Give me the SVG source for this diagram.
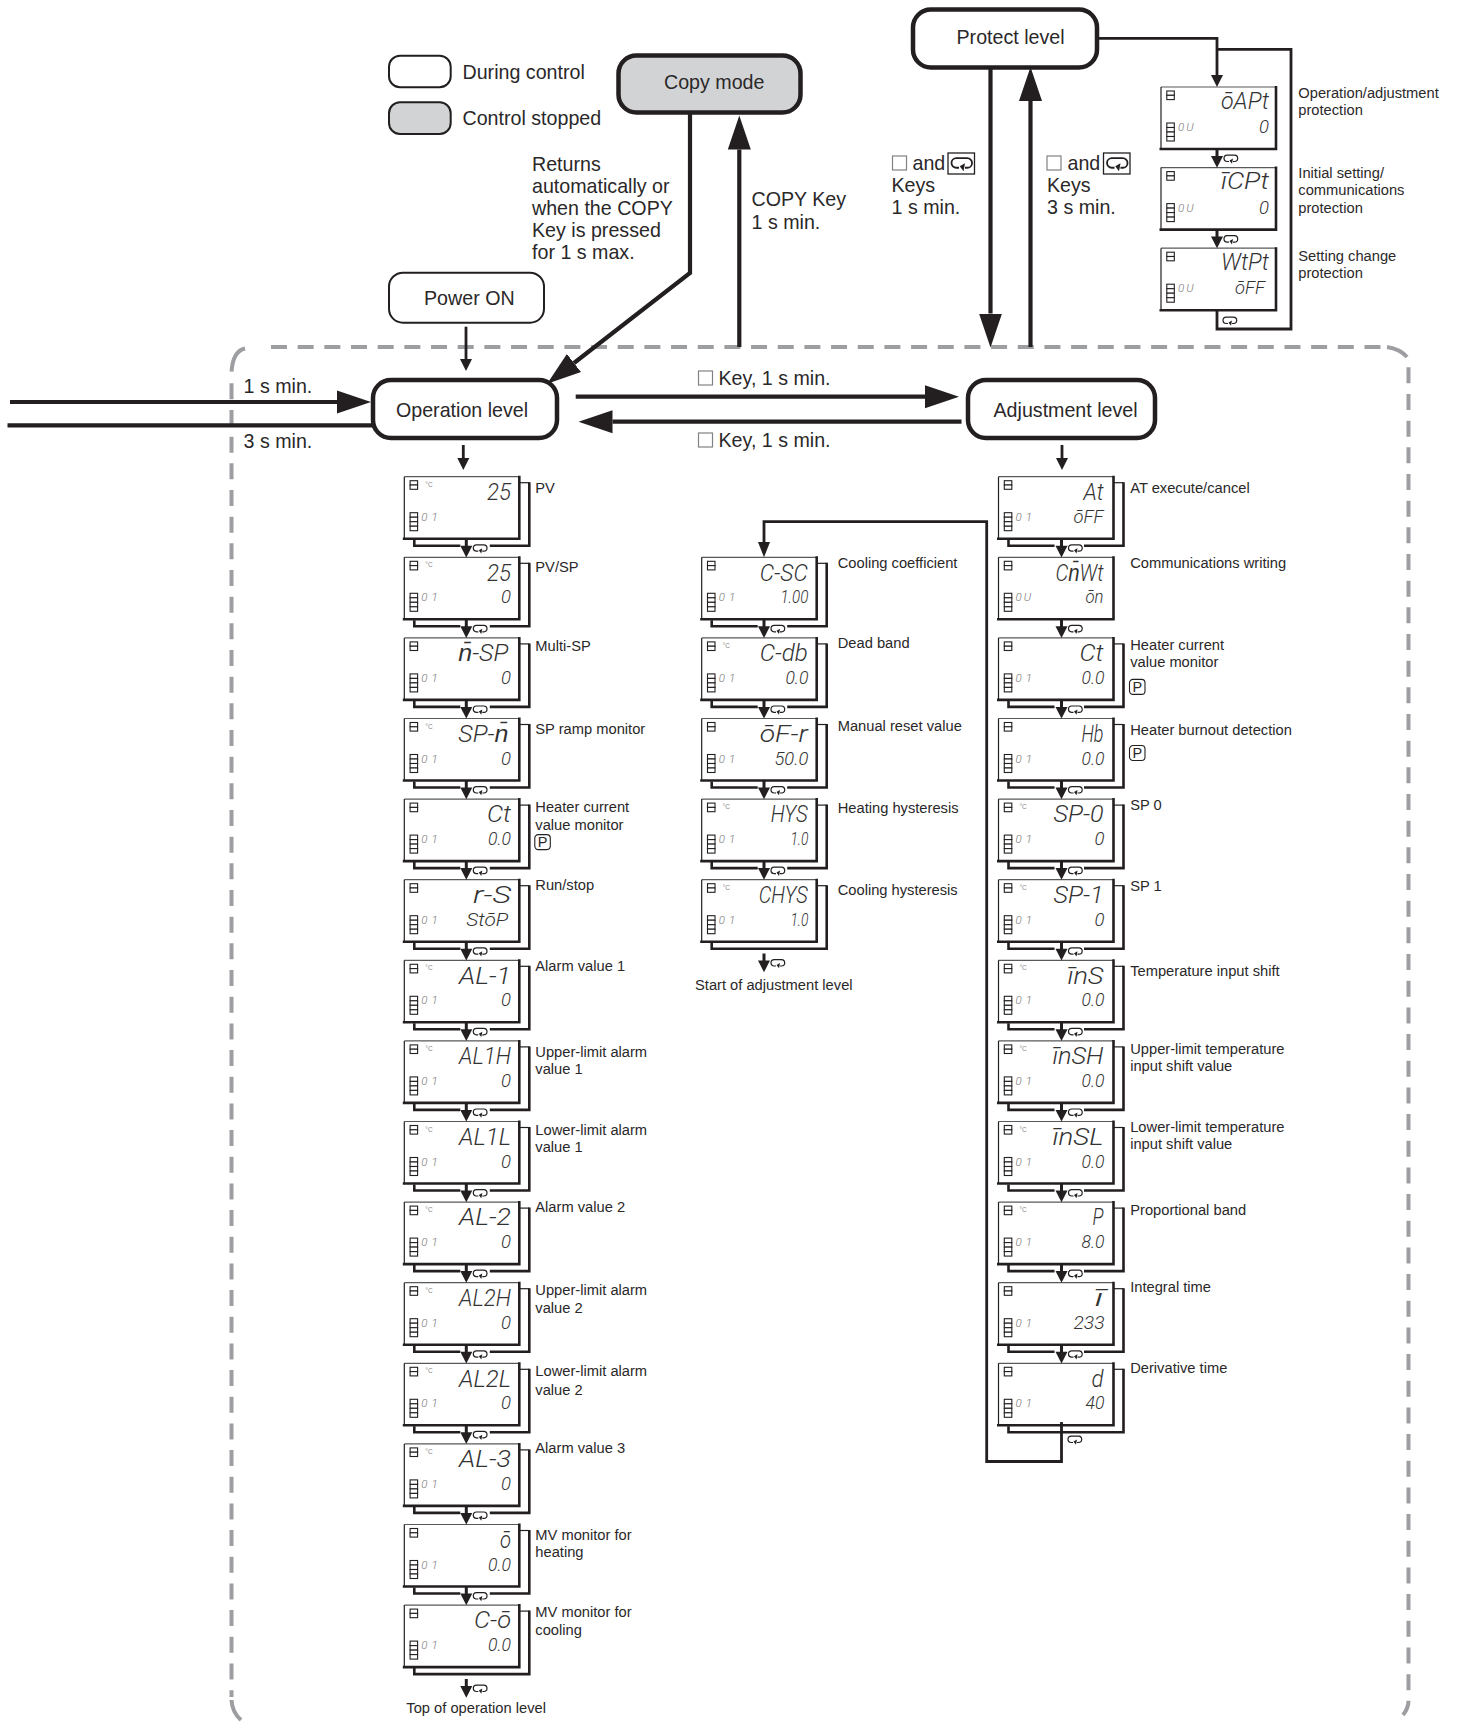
<svg xmlns="http://www.w3.org/2000/svg" width="1457" height="1722" viewBox="0 0 1457 1722">
<style>
text{font-family:"Liberation Sans",Arial,sans-serif;fill:#2a2829}
.b{font-size:19.65px}
.l{font-size:14.7px}
.m,.s,.d{font-family:"Roboto","Liberation Sans",sans-serif;font-style:italic;font-weight:300;text-anchor:end;fill:#333}
.m{font-size:24px}
.s{font-size:18.5px}
.d{font-size:11.5px;text-anchor:start;fill:#777;letter-spacing:4px}
.c{font-size:6.5px;fill:#888}
.lv{fill:#fff;stroke:#231f20;stroke-width:4.5}
.th{fill:#fff;stroke:#231f20;stroke-width:2}
.dash{fill:none;stroke:#9d9ea1;stroke-width:4;stroke-dasharray:16 10.67}
.cor{fill:none;stroke:#9d9ea1;stroke-width:4}
.k{fill:none;stroke:#231f20;stroke-width:4.2}
.k3{fill:none;stroke:#231f20;stroke-width:2.8}
.sq{fill:#fff;stroke:#808285;stroke-width:1.2}
</style>
<defs>
<marker id="big" markerUnits="userSpaceOnUse" markerWidth="36" markerHeight="24" refX="0" refY="12" orient="auto" viewBox="0 0 36 24"><path d="M0,0.5 L34,12 L0,23.500Z" fill="#231f20"/></marker>
<marker id="small" markerUnits="userSpaceOnUse" markerWidth="12" markerHeight="13" refX="0" refY="6.500" orient="auto" viewBox="0 0 12 13"><path d="M0,0.500 L12,6.500 L0,12.500Z" fill="#231f20"/></marker>
<g id="loop"><path d="M9,7.500 H10.500 a3.200,3.200 0 0 0 0,-6.400 H3.200 a3.200,3.200 0 0 0 0,6.400 H5" fill="none" stroke="#231f20" stroke-width="1.200"/><path d="M9,4.500 L5.500,6.500 L8,9.800Z" fill="#231f20"/></g>
<g id="step"><path d="M0,0 V8" fill="none" stroke="#231f20" stroke-width="3"/><path d="M-6,7 H6 L0,18.700Z" fill="#231f20"/><use href="#loop" x="7" y="5"/></g>
<g id="lcd">
<rect x="0.500" y="0.500" width="114" height="61" fill="#fff"/>
<path d="M0,0 H115" fill="none" stroke="#58595b" stroke-width="1.200"/><path d="M0,0 V62" fill="none" stroke="#231f20" stroke-width="1.200"/>
<path d="M-1.500,62 H115 V-1" fill="none" stroke="#231f20" stroke-width="2.600"/>
<g fill="#fff" stroke="#231f20" stroke-width="1.100"><rect x="5.800" y="4" width="7.500" height="4.300"/><rect x="5.800" y="8.300" width="7.500" height="4.300"/><rect x="5.800" y="36" width="7.500" height="4.500"/><rect x="5.800" y="40.500" width="7.500" height="4.500"/><rect x="5.800" y="45" width="7.500" height="4.500"/><rect x="5.800" y="49.500" width="7.500" height="4.500"/></g>
</g>
<g id="back"><path d="M115,6 H125" fill="none" stroke="#231f20" stroke-width="1.200"/><path d="M125,5.500 V69 H85.500 M56,69 H10 V63" fill="none" stroke="#231f20" stroke-width="2.600"/></g>
<g id="backf"><path d="M115,6 H125" fill="none" stroke="#231f20" stroke-width="1.200"/><path d="M125,5.500 V69 H10 V63" fill="none" stroke="#231f20" stroke-width="2.600"/></g>
<g id="keybox"><rect x="0" y="0" width="26.500" height="21" fill="#fff" stroke="#231f20" stroke-width="1.300"/><use href="#loop" transform="translate(3.500,3.500) scale(1.500)"/></g>
<g id="pkey"><rect x="0" y="0" width="15.500" height="15" rx="3.500" fill="#fff" stroke="#231f20" stroke-width="1.100"/><text x="7.750" y="12.700" text-anchor="middle" style="font-size:14.5px">P</text></g>
</defs>

<g id="boundary">
<path class="dash" d="M271,347 H1385"/>
<path class="cor" d="M1387,347 Q1400,349 1407,357"/>
<path class="dash" d="M1408.500,367.300 V1697"/>
<path class="cor" d="M1408.500,1700.700 Q1408.500,1708 1403,1715"/>
<path class="dash" d="M231.500,383.300 V1697"/>
<path class="cor" d="M245,348.500 Q233,351 231.500,371.700"/>
<path class="cor" d="M231.500,1700 Q232,1712 241,1720"/>
</g>

<g id="legend">
<rect class="th" x="389" y="55.700" width="61.700" height="31.600" rx="11"/>
<rect class="th" x="389" y="102.300" width="61.700" height="31.700" rx="11" style="fill:#d1d3d4"/>
<text class="b" x="462.500" y="79.300">During control</text>
<text class="b" x="462.500" y="125.300">Control stopped</text>
</g>

<g id="n-copy"><rect class="lv" x="618.500" y="55.500" width="182" height="57" rx="18" style="fill:#d1d3d4"/><text class="b" x="664" y="89.300">Copy mode</text></g>
<g id="n-protect"><rect class="lv" x="913" y="9.500" width="184" height="58" rx="18"/><text class="b" x="956.500" y="44">Protect level</text></g>
<g id="n-power"><rect class="th" x="389" y="272.700" width="155" height="50" rx="14"/><text class="b" x="424" y="305">Power ON</text></g>
<g id="n-operation"><rect class="lv" x="373" y="380" width="184" height="58" rx="18"/><text class="b" x="396" y="417.300">Operation level</text></g>
<g id="n-adjustment"><rect class="lv" x="968" y="380" width="187" height="58" rx="18"/><text class="b" x="993.500" y="417.300">Adjustment level</text></g>

<g id="op-labels-text">
<text class="b" x="532" y="170.700">Returns</text>
<text class="b" x="532" y="192.700">automatically or</text>
<text class="b" x="532" y="215">when the COPY</text>
<text class="b" x="532" y="236.700">Key is pressed</text>
<text class="b" x="532" y="259.300">for 1 s max.</text>
<text class="b" x="751.500" y="206">COPY Key</text>
<text class="b" x="751.500" y="229.300">1 s min.</text>
<text class="b" x="243.500" y="393.300">1 s min.</text>
<text class="b" x="243.500" y="448">3 s min.</text>
<rect class="sq" x="698.500" y="371" width="14" height="14"/>
<text class="b" x="718.500" y="385">Key, 1 s min.</text>
<rect class="sq" x="698.500" y="433" width="14" height="14"/>
<text class="b" x="718.500" y="446.700">Key, 1 s min.</text>
<rect class="sq" x="892.500" y="156" width="14" height="14"/>
<text class="b" x="912.500" y="170">and</text>
<use href="#keybox" x="948" y="153"/>
<text class="b" x="891.500" y="191.700">Keys</text>
<text class="b" x="891.500" y="214">1 s min.</text>
<rect class="sq" x="1047" y="156" width="14" height="14"/>
<text class="b" x="1067.500" y="170">and</text>
<use href="#keybox" x="1103.500" y="153"/>
<text class="b" x="1047" y="191.700">Keys</text>
<text class="b" x="1047" y="214">3 s min.</text>
<text class="l" x="1298.300" y="98">Operation/adjustment</text>
<text class="l" x="1298.300" y="115">protection</text>
<text class="l" x="1298.300" y="178">Initial setting/</text>
<text class="l" x="1298.300" y="195">communications</text>
<text class="l" x="1298.300" y="213">protection</text>
<text class="l" x="1298.300" y="260.700">Setting change</text>
<text class="l" x="1298.300" y="278">protection</text>
</g>

<g id="protect-col">
<g id="p1" transform="translate(1161,87)"><use href="#lcd"/><text class="m" x="108" y="21.600" textLength="48" lengthAdjust="spacingAndGlyphs">ōAPt</text><text class="d" x="17" y="44" style="letter-spacing:2px">0U</text><text class="s" x="108" y="46" textLength="10" lengthAdjust="spacingAndGlyphs">0</text></g>
<g id="p2" transform="translate(1161,167.600)"><use href="#lcd"/><text class="m" x="108" y="21.600" textLength="48" lengthAdjust="spacingAndGlyphs">īCPt</text><text class="d" x="17" y="44" style="letter-spacing:2px">0U</text><text class="s" x="108" y="46" textLength="10" lengthAdjust="spacingAndGlyphs">0</text></g>
<g id="p3" transform="translate(1161,248.200)"><use href="#lcd"/><text class="m" x="108" y="21.600" textLength="48" lengthAdjust="spacingAndGlyphs">WtPt</text><text class="d" x="17" y="44" style="letter-spacing:2px">0U</text><text class="s" x="104" y="46" textLength="30" lengthAdjust="spacingAndGlyphs">ōFF</text></g>
</g>

<g id="op-col">
<g id="o1" transform="translate(404.300,476.700)"><use href="#back"/><use href="#lcd"/><text class="c" x="21" y="10">°C</text><text class="d" x="17" y="44">01</text><text class="m" x="106.700" y="23.300" textLength="24" lengthAdjust="spacingAndGlyphs">25</text><text class="l" x="131" y="16">PV</text></g>
<g id="o2" transform="translate(404.300,557.300)"><use href="#back"/><use href="#lcd"/><text class="c" x="21" y="10">°C</text><text class="d" x="17" y="44">01</text><text class="m" x="106.700" y="23.300" textLength="24" lengthAdjust="spacingAndGlyphs">25</text><text class="s" x="106.700" y="46" textLength="10" lengthAdjust="spacingAndGlyphs">0</text><text class="l" x="131" y="14.400">PV/SP</text></g>
<g id="o3" transform="translate(404.300,637.900)"><use href="#back"/><use href="#lcd"/><text class="d" x="17" y="44">01</text><text class="m" x="104" y="23.300" textLength="50" lengthAdjust="spacingAndGlyphs">n̄-SP</text><text class="s" x="106.700" y="46" textLength="10" lengthAdjust="spacingAndGlyphs">0</text><text class="l" x="131" y="12.800">Multi-SP</text></g>
<g id="o4" transform="translate(404.300,718.500)"><use href="#back"/><use href="#lcd"/><text class="c" x="21" y="10">°C</text><text class="d" x="17" y="44">01</text><text class="m" x="104" y="23.300" textLength="50" lengthAdjust="spacingAndGlyphs">SP-n̄</text><text class="s" x="106.700" y="46" textLength="10" lengthAdjust="spacingAndGlyphs">0</text><text class="l" x="131" y="15.500">SP ramp monitor</text></g>
<g id="o5" transform="translate(404.300,799.100)"><use href="#back"/><use href="#lcd"/><text class="d" x="17" y="44">01</text><text class="m" x="106.700" y="23.300" textLength="24" lengthAdjust="spacingAndGlyphs">Ct</text><text class="s" x="106.700" y="46" textLength="23" lengthAdjust="spacingAndGlyphs">0.0</text><text class="l" x="131" y="13">Heater current</text><text class="l" x="131" y="30.500">value monitor</text><use href="#pkey" x="130.500" y="35.500"/></g>
<g id="o6" transform="translate(404.300,879.700)"><use href="#back"/><use href="#lcd"/><text class="d" x="17" y="44">01</text><text class="m" x="106.700" y="23.300" textLength="38" lengthAdjust="spacingAndGlyphs">r-S</text><text class="s" x="104" y="46" textLength="42" lengthAdjust="spacingAndGlyphs">StōP</text><text class="l" x="131" y="10.300">Run/stop</text></g>
<g id="o7" transform="translate(404.300,960.300)"><use href="#back"/><use href="#lcd"/><text class="c" x="21" y="10">°C</text><text class="d" x="17" y="44">01</text><text class="m" x="106.700" y="23.300" textLength="52" lengthAdjust="spacingAndGlyphs">AL-1</text><text class="s" x="106.700" y="46" textLength="10" lengthAdjust="spacingAndGlyphs">0</text><text class="l" x="131" y="10.700">Alarm value 1</text></g>
<g id="o8" transform="translate(404.300,1040.900)"><use href="#back"/><use href="#lcd"/><text class="c" x="21" y="10">°C</text><text class="d" x="17" y="44">01</text><text class="m" x="106.700" y="23.300" textLength="52" lengthAdjust="spacingAndGlyphs">AL1H</text><text class="s" x="106.700" y="46" textLength="10" lengthAdjust="spacingAndGlyphs">0</text><text class="l" x="131" y="16">Upper-limit alarm</text><text class="l" x="131" y="33.600">value 1</text></g>
<g id="o9" transform="translate(404.300,1121.500)"><use href="#back"/><use href="#lcd"/><text class="c" x="21" y="10">°C</text><text class="d" x="17" y="44">01</text><text class="m" x="106.700" y="23.300" textLength="52" lengthAdjust="spacingAndGlyphs">AL1L</text><text class="s" x="106.700" y="46" textLength="10" lengthAdjust="spacingAndGlyphs">0</text><text class="l" x="131" y="13.500">Lower-limit alarm</text><text class="l" x="131" y="30.500">value 1</text></g>
<g id="o10" transform="translate(404.300,1202.100)"><use href="#back"/><use href="#lcd"/><text class="c" x="21" y="10">°C</text><text class="d" x="17" y="44">01</text><text class="m" x="106.700" y="23.300" textLength="52" lengthAdjust="spacingAndGlyphs">AL-2</text><text class="s" x="106.700" y="46" textLength="10" lengthAdjust="spacingAndGlyphs">0</text><text class="l" x="131" y="9.900">Alarm value 2</text></g>
<g id="o11" transform="translate(404.300,1282.700)"><use href="#back"/><use href="#lcd"/><text class="c" x="21" y="10">°C</text><text class="d" x="17" y="44">01</text><text class="m" x="106.700" y="23.300" textLength="52" lengthAdjust="spacingAndGlyphs">AL2H</text><text class="s" x="106.700" y="46" textLength="10" lengthAdjust="spacingAndGlyphs">0</text><text class="l" x="131" y="12.300">Upper-limit alarm</text><text class="l" x="131" y="30">value 2</text></g>
<g id="o12" transform="translate(404.300,1363.300)"><use href="#back"/><use href="#lcd"/><text class="c" x="21" y="10">°C</text><text class="d" x="17" y="44">01</text><text class="m" x="106.700" y="23.300" textLength="52" lengthAdjust="spacingAndGlyphs">AL2L</text><text class="s" x="106.700" y="46" textLength="10" lengthAdjust="spacingAndGlyphs">0</text><text class="l" x="131" y="12.700">Lower-limit alarm</text><text class="l" x="131" y="31.700">value 2</text></g>
<g id="o13" transform="translate(404.300,1443.900)"><use href="#back"/><use href="#lcd"/><text class="c" x="21" y="10">°C</text><text class="d" x="17" y="44">01</text><text class="m" x="106.700" y="23.300" textLength="52" lengthAdjust="spacingAndGlyphs">AL-3</text><text class="s" x="106.700" y="46" textLength="10" lengthAdjust="spacingAndGlyphs">0</text><text class="l" x="131" y="9.100">Alarm value 3</text></g>
<g id="o14" transform="translate(404.300,1524.500)"><use href="#back"/><use href="#lcd"/><text class="d" x="17" y="44">01</text><text class="m" x="106.700" y="23.300" textLength="11" lengthAdjust="spacingAndGlyphs">ō</text><text class="s" x="106.700" y="46" textLength="23" lengthAdjust="spacingAndGlyphs">0.0</text><text class="l" x="131" y="15.500">MV monitor for</text><text class="l" x="131" y="32">heating</text></g>
<g id="o15" transform="translate(404.300,1605.100)"><use href="#backf"/><use href="#lcd"/><text class="d" x="17" y="44">01</text><text class="m" x="106.700" y="23.300" textLength="37" lengthAdjust="spacingAndGlyphs">C-ō</text><text class="s" x="106.700" y="46" textLength="23" lengthAdjust="spacingAndGlyphs">0.0</text><text class="l" x="131" y="11.600">MV monitor for</text><text class="l" x="131" y="30">cooling</text></g>
<text class="l" x="406.300" y="1712.700">Top of operation level</text>
</g>

<g id="mid-col">
<g id="m1" transform="translate(701.700,557.300)"><use href="#back"/><use href="#lcd"/><text class="d" x="17" y="44">01</text><text class="m" x="106" y="23.300" textLength="48" lengthAdjust="spacingAndGlyphs">C-SC</text><text class="s" x="106.700" y="46" textLength="28" lengthAdjust="spacingAndGlyphs">1.00</text><text class="l" x="136" y="11">Cooling coefficient</text></g>
<g id="m2" transform="translate(701.700,637.900)"><use href="#back"/><use href="#lcd"/><text class="c" x="21" y="10">°C</text><text class="d" x="17" y="44">01</text><text class="m" x="106" y="23.300" textLength="48" lengthAdjust="spacingAndGlyphs">C-db</text><text class="s" x="106.700" y="46" textLength="23" lengthAdjust="spacingAndGlyphs">0.0</text><text class="l" x="136" y="10.400">Dead band</text></g>
<g id="m3" transform="translate(701.700,718.500)"><use href="#back"/><use href="#lcd"/><text class="d" x="17" y="44">01</text><text class="m" x="106" y="23.300" textLength="48" lengthAdjust="spacingAndGlyphs">ōF-r</text><text class="s" x="106.700" y="46" textLength="34" lengthAdjust="spacingAndGlyphs">50.0</text><text class="l" x="136" y="12.200">Manual reset value</text></g>
<g id="m4" transform="translate(701.700,799.100)"><use href="#back"/><use href="#lcd"/><text class="c" x="21" y="10">°C</text><text class="d" x="17" y="44">01</text><text class="m" x="106" y="23.300" textLength="37" lengthAdjust="spacingAndGlyphs">HYS</text><text class="s" x="106.700" y="46" textLength="18" lengthAdjust="spacingAndGlyphs">1.0</text><text class="l" x="136" y="14.200">Heating hysteresis</text></g>
<g id="m5" transform="translate(701.700,879.700)"><use href="#backf"/><use href="#lcd"/><text class="c" x="21" y="10">°C</text><text class="d" x="17" y="44">01</text><text class="m" x="106" y="23.300" textLength="49" lengthAdjust="spacingAndGlyphs">CHYS</text><text class="s" x="106.700" y="46" textLength="18" lengthAdjust="spacingAndGlyphs">1.0</text><text class="l" x="136" y="15">Cooling hysteresis</text></g>
<text class="l" x="695" y="990">Start of adjustment level</text>
</g>

<g id="adj-col">
<g id="a1" transform="translate(998.500,476.700)"><use href="#back"/><use href="#lcd"/><text class="d" x="17" y="44">01</text><text class="m" x="105" y="23.300" textLength="20" lengthAdjust="spacingAndGlyphs">At</text><text class="s" x="105" y="46" textLength="30" lengthAdjust="spacingAndGlyphs">ōFF</text><text class="l" x="131.700" y="16">AT execute/cancel</text></g>
<g id="a2" transform="translate(998.500,557.300)"><use href="#lcd"/><text class="d" x="17" y="44" style="letter-spacing:2px">0U</text><text class="m" x="105" y="23.300" textLength="48" lengthAdjust="spacingAndGlyphs">Cn̄Wt</text><text class="s" x="105" y="46" textLength="18" lengthAdjust="spacingAndGlyphs">ōn</text><text class="l" x="131.700" y="11">Communications writing</text></g>
<g id="a3" transform="translate(998.500,637.900)"><use href="#back"/><use href="#lcd"/><text class="d" x="17" y="44">01</text><text class="m" x="105" y="23.300" textLength="24" lengthAdjust="spacingAndGlyphs">Ct</text><text class="s" x="106" y="46" textLength="23" lengthAdjust="spacingAndGlyphs">0.0</text><text class="l" x="131.700" y="12">Heater current</text><text class="l" x="131.700" y="28.800">value monitor</text><use href="#pkey" x="131" y="41.500"/></g>
<g id="a4" transform="translate(998.500,718.500)"><use href="#back"/><use href="#lcd"/><text class="d" x="17" y="44">01</text><text class="m" x="105" y="23.300" textLength="22" lengthAdjust="spacingAndGlyphs">Hb</text><text class="s" x="106" y="46" textLength="23" lengthAdjust="spacingAndGlyphs">0.0</text><text class="l" x="131.700" y="16.500">Heater burnout detection</text><use href="#pkey" x="131" y="27"/></g>
<g id="a5" transform="translate(998.500,799.100)"><use href="#back"/><use href="#lcd"/><text class="c" x="21" y="10">°C</text><text class="d" x="17" y="44">01</text><text class="m" x="105" y="23.300" textLength="50" lengthAdjust="spacingAndGlyphs">SP-0</text><text class="s" x="106" y="46" textLength="10" lengthAdjust="spacingAndGlyphs">0</text><text class="l" x="131.700" y="10.900">SP 0</text></g>
<g id="a6" transform="translate(998.500,879.700)"><use href="#back"/><use href="#lcd"/><text class="c" x="21" y="10">°C</text><text class="d" x="17" y="44">01</text><text class="m" x="105" y="23.300" textLength="50" lengthAdjust="spacingAndGlyphs">SP-1</text><text class="s" x="106" y="46" textLength="10" lengthAdjust="spacingAndGlyphs">0</text><text class="l" x="131.700" y="11.300">SP 1</text></g>
<g id="a7" transform="translate(998.500,960.300)"><use href="#back"/><use href="#lcd"/><text class="c" x="21" y="10">°C</text><text class="d" x="17" y="44">01</text><text class="m" x="105" y="23.300" textLength="36" lengthAdjust="spacingAndGlyphs">īnS</text><text class="s" x="106" y="46" textLength="23" lengthAdjust="spacingAndGlyphs">0.0</text><text class="l" x="131.700" y="15.300">Temperature input shift</text></g>
<g id="a8" transform="translate(998.500,1040.900)"><use href="#back"/><use href="#lcd"/><text class="c" x="21" y="10">°C</text><text class="d" x="17" y="44">01</text><text class="m" x="105" y="23.300" textLength="51" lengthAdjust="spacingAndGlyphs">īnSH</text><text class="s" x="106" y="46" textLength="23" lengthAdjust="spacingAndGlyphs">0.0</text><text class="l" x="131.700" y="12.700">Upper-limit temperature</text><text class="l" x="131.700" y="30.100">input shift value</text></g>
<g id="a9" transform="translate(998.500,1121.500)"><use href="#back"/><use href="#lcd"/><text class="c" x="21" y="10">°C</text><text class="d" x="17" y="44">01</text><text class="m" x="105" y="23.300" textLength="51" lengthAdjust="spacingAndGlyphs">īnSL</text><text class="s" x="106" y="46" textLength="23" lengthAdjust="spacingAndGlyphs">0.0</text><text class="l" x="131.700" y="10">Lower-limit temperature</text><text class="l" x="131.700" y="27.500">input shift value</text></g>
<g id="a10" transform="translate(998.500,1202.100)"><use href="#back"/><use href="#lcd"/><text class="c" x="21" y="10">°C</text><text class="d" x="17" y="44">01</text><text class="m" x="105" y="23.300" textLength="11" lengthAdjust="spacingAndGlyphs">P</text><text class="s" x="106" y="46" textLength="23" lengthAdjust="spacingAndGlyphs">8.0</text><text class="l" x="131.700" y="12.900">Proportional band</text></g>
<g id="a11" transform="translate(998.500,1282.700)"><use href="#back"/><use href="#lcd"/><text class="d" x="17" y="44">01</text><text class="m" x="105" y="23.300" textLength="9" lengthAdjust="spacingAndGlyphs">ī</text><text class="s" x="106" y="46" textLength="31" lengthAdjust="spacingAndGlyphs">233</text><text class="l" x="131.700" y="9">Integral time</text></g>
<g id="a12" transform="translate(998.500,1363.300)"><use href="#backf"/><use href="#lcd"/><text class="d" x="17" y="44">01</text><text class="m" x="105" y="23.300" textLength="12" lengthAdjust="spacingAndGlyphs">d</text><text class="s" x="106" y="46" textLength="19" lengthAdjust="spacingAndGlyphs">40</text><text class="l" x="131.700" y="9.400">Derivative time</text></g>
</g>

<g id="connectors">
<path class="k" d="M690,112 V273 L574,363" marker-end="url(#big)"/>
<path class="k" d="M739.300,347 V149.500" marker-end="url(#big)"/>
<path class="k" d="M990.500,67 V313.500" marker-end="url(#big)"/>
<path class="k" d="M1030.500,347 V101" marker-end="url(#big)"/>
<path class="k" d="M10,402 H337" marker-end="url(#big)"/>
<path class="k" d="M7.500,425.300 H373"/>
<path class="k" d="M575.700,396.700 H925" marker-end="url(#big)"/>
<path class="k" d="M961.500,421.700 H612.500" marker-end="url(#big)"/>
<path class="k3" d="M466,326.700 V359" marker-end="url(#small)"/>
<path class="k3" d="M463.300,445 V458" marker-end="url(#small)"/>
<path class="k3" d="M1062,445 V458" marker-end="url(#small)"/>
<path class="k3" d="M1097,38.300 H1217 V75" marker-end="url(#small)"/>
<path class="k3" d="M1217,49.300 H1291 V329 H1217 V310"/>
<use href="#loop" x="1223" y="316"/>
<use href="#step" x="1217" y="149"/>
<use href="#step" x="1217" y="229.600"/>
<path class="k3" d="M764,553 V521.700 H986.700 V1461.500 H1061.500 V1422" style="fill:none"/>
<path d="M758,542 H770 L764,557.300Z" fill="#231f20"/>
<use href="#loop" x="1068" y="1435"/>
<use href="#step" x="466.300" y="538.700"/><use href="#step" x="466.300" y="619.300"/><use href="#step" x="466.300" y="699.900"/><use href="#step" x="466.300" y="780.500"/><use href="#step" x="466.300" y="861.100"/><use href="#step" x="466.300" y="941.700"/><use href="#step" x="466.300" y="1022.300"/><use href="#step" x="466.300" y="1102.900"/><use href="#step" x="466.300" y="1183.500"/><use href="#step" x="466.300" y="1264.100"/><use href="#step" x="466.300" y="1344.700"/><use href="#step" x="466.300" y="1425.300"/><use href="#step" x="466.300" y="1505.900"/><use href="#step" x="466.300" y="1586.500"/><use href="#step" x="466.300" y="1679"/>
<use href="#step" x="764" y="619.300"/><use href="#step" x="764" y="699.900"/><use href="#step" x="764" y="780.500"/><use href="#step" x="764" y="861.100"/><use href="#step" x="764" y="953.500"/>
<use href="#step" x="1061.500" y="538.700"/><use href="#step" x="1061.500" y="619.300"/><use href="#step" x="1061.500" y="699.900"/><use href="#step" x="1061.500" y="780.500"/><use href="#step" x="1061.500" y="861.100"/><use href="#step" x="1061.500" y="941.700"/><use href="#step" x="1061.500" y="1022.300"/><use href="#step" x="1061.500" y="1102.900"/><use href="#step" x="1061.500" y="1183.500"/><use href="#step" x="1061.500" y="1264.100"/><use href="#step" x="1061.500" y="1344.700"/>
</g>
</svg>
